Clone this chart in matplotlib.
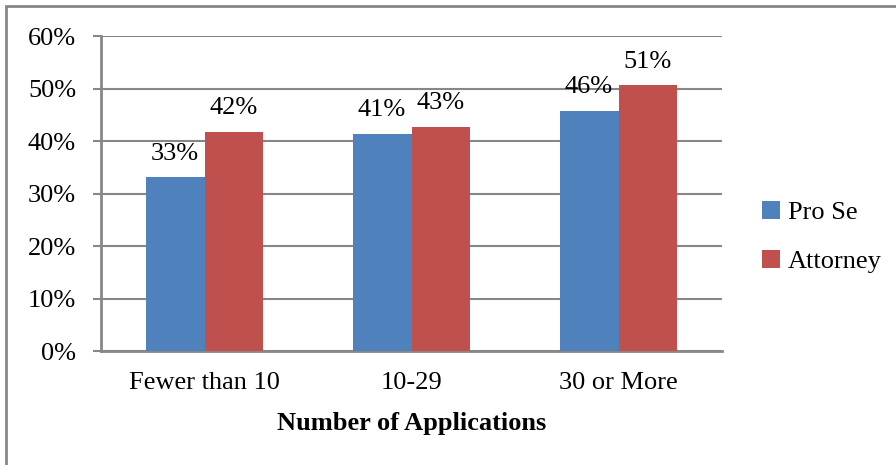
import matplotlib
matplotlib.use("Agg")
import matplotlib.pyplot as plt
from matplotlib.patches import Rectangle
import numpy as np

categories = ["Fewer than 10", "10-29", "30 or More"]
pro_se = [0.331, 0.414, 0.458]
attorney = [0.418, 0.427, 0.506]
series_names = ["Pro Se", "Attorney"]
y_ticks = [0.0, 0.1, 0.2, 0.3, 0.4, 0.5, 0.6]

blue = "#4F81BD"
red = "#C0504D"
grid_col = "#878787"
fs = 19

plt.rcParams["font.family"] = ["Liberation Serif", "DejaVu Serif"]

W, H = 896, 465
fig = plt.figure(figsize=(W / 100, H / 100), dpi=100)
ax = fig.add_axes([101 / W, 1 - 351 / H, (722 - 101) / W, (351 - 36) / H])

x = np.arange(len(categories))
bw = 0.285
b1 = ax.bar(x - bw / 2, pro_se, bw, color=blue, label=series_names[0], zorder=3)
b2 = ax.bar(x + bw / 2, attorney, bw, color=red, label=series_names[1], zorder=3)

for bars, vals in ((b1, pro_se), (b2, attorney)):
    for rect, v in zip(bars, vals):
        ax.annotate(f"{v * 100:.0f}%", (rect.get_x() + rect.get_width() / 2, v),
                    xytext=(0, 9), textcoords="offset points",
                    ha="center", va="bottom", fontsize=fs, zorder=4)

ax.set_xlim(-0.5, len(categories) - 0.5)
ax.set_ylim(0, 0.6)
ax.set_yticks(y_ticks)
ax.set_yticklabels([f"{t * 100:.0f}%" for t in y_ticks], fontsize=fs)
ax.set_xticks(x)
ax.set_xticklabels(categories, fontsize=fs)
ax.tick_params(axis="x", length=0, pad=15)
ax.tick_params(axis="y", length=6, width=1.5, color=grid_col, pad=12)
ax.grid(axis="y", color=grid_col, linewidth=1.5, zorder=0)
for s in ("top", "right"):
    ax.spines[s].set_visible(False)
for s in ("left", "bottom"):
    ax.spines[s].set_color(grid_col)
    ax.spines[s].set_linewidth(2)
ax.set_xlabel("Number of Applications", fontsize=fs, fontweight="bold", labelpad=13)

ax.legend(loc="center left", bbox_to_anchor=(738 / W, 1 - 237 / H),
          bbox_transform=fig.transFigure, frameon=False, fontsize=fs,
          handlelength=0.7, handleheight=0.7, handletextpad=0.3,
          labelspacing=0.95)

# chart frame
fig.patches.append(Rectangle((6 / W, -0.1), 1.2, 1 - 6 / H + 0.1,
                             transform=fig.transFigure, fill=False,
                             edgecolor=grid_col, linewidth=2))

fig.savefig("out.png", dpi=100)
